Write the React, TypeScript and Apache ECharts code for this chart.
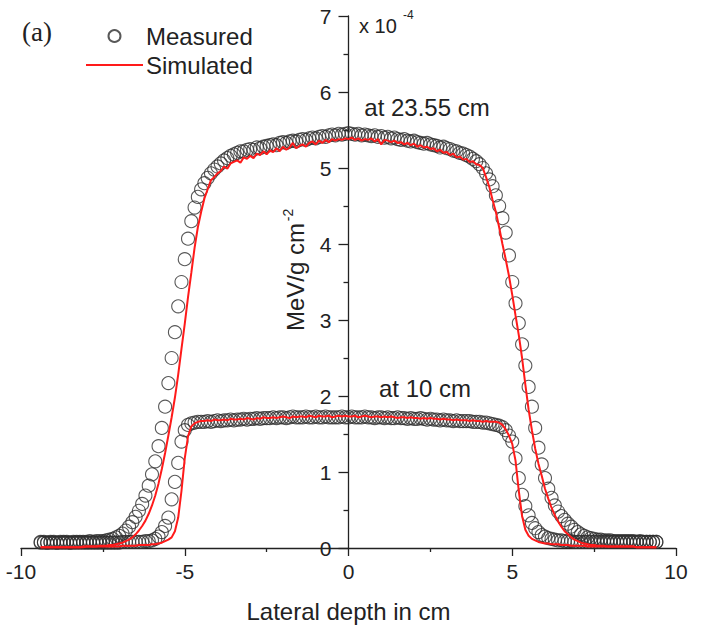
import React, { useEffect, useRef } from "react";
import * as echarts from "echarts";

// Lateral position (cm), shared sampling of all four profiles
const X = [
  -9.4, -9.3, -9.2, -9.1, -9.0, -8.9, -8.8, -8.7, -8.6, -8.5,
  -8.4, -8.3, -8.2, -8.1, -8.0, -7.9, -7.8, -7.7, -7.6, -7.5,
  -7.4, -7.3, -7.2, -7.1, -7.0, -6.9, -6.8, -6.7, -6.6, -6.5,
  -6.4, -6.3, -6.2, -6.1, -6.0, -5.9, -5.8, -5.7, -5.6, -5.5,
  -5.4, -5.3, -5.2, -5.1, -5.0, -4.9, -4.8, -4.7, -4.6, -4.5,
  -4.4, -4.3, -4.2, -4.1, -4.0, -3.9, -3.8, -3.7, -3.6, -3.5,
  -3.4, -3.3, -3.2, -3.1, -3.0, -2.9, -2.8, -2.7, -2.6, -2.5,
  -2.4, -2.3, -2.2, -2.1, -2.0, -1.9, -1.8, -1.7, -1.6, -1.5,
  -1.4, -1.3, -1.2, -1.1, -1.0, -0.9, -0.8, -0.7, -0.6, -0.5,
  -0.4, -0.3, -0.2, -0.1, 0.0, 0.1, 0.2, 0.3, 0.4, 0.5,
  0.6, 0.7, 0.8, 0.9, 1.0, 1.1, 1.2, 1.3, 1.4, 1.5,
  1.6, 1.7, 1.8, 1.9, 2.0, 2.1, 2.2, 2.3, 2.4, 2.5,
  2.6, 2.7, 2.8, 2.9, 3.0, 3.1, 3.2, 3.3, 3.4, 3.5,
  3.6, 3.7, 3.8, 3.9, 4.0, 4.1, 4.2, 4.3, 4.4, 4.5,
  4.6, 4.7, 4.8, 4.9, 5.0, 5.1, 5.2, 5.3, 5.4, 5.5,
  5.6, 5.7, 5.8, 5.9, 6.0, 6.1, 6.2, 6.3, 6.4, 6.5,
  6.6, 6.7, 6.8, 6.9, 7.0, 7.1, 7.2, 7.3, 7.4, 7.5,
  7.6, 7.7, 7.8, 7.9, 8.0, 8.1, 8.2, 8.3, 8.4, 8.5,
  8.6, 8.7, 8.8, 8.9, 9.0, 9.1, 9.2, 9.3, 9.4,
];

// Measured dose at 23.55 cm (x 10^-4 MeV/g cm^-2)
const MEASURED_23 = [
  0.08, 0.08, 0.07, 0.08, 0.08, 0.07, 0.08, 0.08, 0.08, 0.07,
  0.08, 0.08, 0.08, 0.08, 0.08, 0.09, 0.08, 0.09, 0.09, 0.09,
  0.10, 0.11, 0.12, 0.14, 0.16, 0.19, 0.23, 0.28, 0.34, 0.41,
  0.49, 0.58, 0.69, 0.82, 0.97, 1.14, 1.34, 1.58, 1.86, 2.17,
  2.50, 2.84, 3.18, 3.50, 3.80, 4.07, 4.30, 4.48, 4.62, 4.72,
  4.80, 4.87, 4.93, 4.98, 5.02, 5.06, 5.10, 5.13, 5.16, 5.18,
  5.20, 5.22, 5.22, 5.24, 5.25, 5.24, 5.27, 5.26, 5.28, 5.29,
  5.30, 5.31, 5.30, 5.33, 5.34, 5.33, 5.35, 5.36, 5.35, 5.37,
  5.38, 5.37, 5.39, 5.40, 5.39, 5.41, 5.42, 5.41, 5.43, 5.44,
  5.43, 5.45, 5.44, 5.45, 5.46, 5.45, 5.44, 5.45, 5.43, 5.44,
  5.43, 5.42, 5.43, 5.41, 5.42, 5.40, 5.41, 5.39, 5.40, 5.38,
  5.37, 5.38, 5.36, 5.35, 5.36, 5.34, 5.33, 5.32, 5.33, 5.31,
  5.30, 5.29, 5.27, 5.28, 5.26, 5.25, 5.23, 5.22, 5.20, 5.19,
  5.17, 5.15, 5.12, 5.09, 5.05, 5.00, 4.93, 4.85, 4.76, 4.64,
  4.50, 4.34, 4.15, 3.85, 3.50, 3.22, 2.96, 2.68, 2.40, 2.12,
  1.86, 1.58, 1.32, 1.10, 0.92, 0.78, 0.66, 0.56, 0.48, 0.42,
  0.37, 0.32, 0.28, 0.24, 0.21, 0.18, 0.16, 0.14, 0.13, 0.12,
  0.11, 0.11, 0.10, 0.10, 0.10, 0.09, 0.09, 0.09, 0.09, 0.09,
  0.09, 0.09, 0.08, 0.09, 0.08, 0.08, 0.08, 0.08, 0.08,
];

// Measured dose at 10 cm
const MEASURED_10 = [
  0.07, 0.07, 0.07, 0.07, 0.07, 0.07, 0.07, 0.07, 0.07, 0.07,
  0.07, 0.07, 0.07, 0.07, 0.07, 0.07, 0.07, 0.07, 0.07, 0.07,
  0.07, 0.07, 0.07, 0.07, 0.07, 0.08, 0.08, 0.08, 0.08, 0.08,
  0.08, 0.08, 0.09, 0.09, 0.10, 0.12, 0.15, 0.21, 0.29, 0.40,
  0.64, 0.87, 1.12, 1.40, 1.55, 1.62, 1.64, 1.65, 1.66, 1.66,
  1.66, 1.67, 1.66, 1.67, 1.68, 1.67, 1.68, 1.68, 1.69, 1.68,
  1.69, 1.69, 1.70, 1.69, 1.70, 1.70, 1.71, 1.70, 1.71, 1.71,
  1.71, 1.72, 1.71, 1.72, 1.72, 1.71, 1.72, 1.73, 1.72, 1.72,
  1.72, 1.73, 1.72, 1.72, 1.73, 1.72, 1.72, 1.73, 1.72, 1.72,
  1.72, 1.72, 1.73, 1.72, 1.72, 1.73, 1.72, 1.72, 1.72, 1.73,
  1.72, 1.72, 1.71, 1.72, 1.72, 1.71, 1.72, 1.71, 1.71, 1.72,
  1.71, 1.71, 1.70, 1.71, 1.70, 1.70, 1.71, 1.70, 1.69, 1.70,
  1.69, 1.69, 1.68, 1.69, 1.68, 1.68, 1.67, 1.68, 1.67, 1.67,
  1.67, 1.67, 1.66, 1.66, 1.66, 1.65, 1.65, 1.64, 1.63, 1.62,
  1.61, 1.59, 1.55, 1.48, 1.40, 1.18, 0.92, 0.70, 0.55, 0.43,
  0.33, 0.26, 0.21, 0.17, 0.15, 0.13, 0.12, 0.11, 0.10, 0.10,
  0.09, 0.09, 0.09, 0.08, 0.08, 0.08, 0.08, 0.08, 0.08, 0.08,
  0.08, 0.08, 0.08, 0.08, 0.08, 0.08, 0.08, 0.08, 0.08, 0.08,
  0.08, 0.08, 0.08, 0.08, 0.08, 0.08, 0.08, 0.08, 0.08,
];

// Simulated dose at 23.55 cm
const SIMULATED_23 = [
  0.01, 0.01, 0.01, 0.01, 0.01, 0.01, 0.01, 0.01, 0.01, 0.01,
  0.01, 0.01, 0.01, 0.02, 0.02, 0.02, 0.02, 0.02, 0.03, 0.03,
  0.03, 0.04, 0.04, 0.05, 0.06, 0.07, 0.09, 0.11, 0.14, 0.18,
  0.23, 0.29, 0.36, 0.45, 0.56, 0.69, 0.85, 1.04, 1.25, 1.48,
  1.72, 1.98, 2.28, 2.62, 2.95, 3.30, 3.62, 3.95, 4.22, 4.42,
  4.60, 4.72, 4.84, 4.88, 4.93, 4.96, 5.02, 4.99, 5.06, 5.08,
  5.10, 5.07, 5.14, 5.12, 5.16, 5.13, 5.19, 5.17, 5.22, 5.18,
  5.23, 5.21, 5.26, 5.22, 5.28, 5.24, 5.27, 5.33, 5.26, 5.29,
  5.31, 5.28, 5.33, 5.35, 5.31, 5.36, 5.33, 5.37, 5.34, 5.38,
  5.36, 5.38, 5.37, 5.39, 5.38, 5.40, 5.37, 5.39, 5.36, 5.38,
  5.37, 5.39, 5.35, 5.38, 5.31, 5.37, 5.36, 5.34, 5.36, 5.33,
  5.34, 5.31, 5.33, 5.30, 5.32, 5.28, 5.30, 5.27, 5.28, 5.25,
  5.26, 5.22, 5.24, 5.20, 5.21, 5.17, 5.19, 5.14, 5.15, 5.11,
  5.12, 5.08, 5.09, 5.05, 5.04, 5.00, 4.88, 4.75, 4.58, 4.42,
  4.22, 4.00, 3.80, 3.58, 3.33, 3.06, 2.80, 2.50, 2.15, 1.82,
  1.55, 1.31, 1.11, 0.95, 0.78, 0.65, 0.53, 0.43, 0.35, 0.28,
  0.22, 0.18, 0.14, 0.11, 0.09, 0.07, 0.06, 0.05, 0.04, 0.04,
  0.03, 0.03, 0.03, 0.02, 0.02, 0.02, 0.02, 0.02, 0.02, 0.02,
  0.02, 0.02, 0.01, 0.01, 0.01, 0.01, 0.01, 0.01, 0.01,
];

// Simulated dose at 10 cm
const SIMULATED_10 = [
  0.01, 0.01, 0.01, 0.01, 0.01, 0.01, 0.01, 0.01, 0.01, 0.01,
  0.01, 0.01, 0.01, 0.01, 0.02, 0.02, 0.02, 0.02, 0.02, 0.02,
  0.02, 0.02, 0.02, 0.02, 0.02, 0.03, 0.03, 0.03, 0.03, 0.03,
  0.04, 0.04, 0.04, 0.04, 0.05, 0.05, 0.06, 0.07, 0.09, 0.11,
  0.14, 0.22, 0.40, 0.75, 1.18, 1.47, 1.60, 1.64, 1.66, 1.67,
  1.67, 1.68, 1.67, 1.69, 1.68, 1.68, 1.69, 1.68, 1.70, 1.69,
  1.69, 1.70, 1.69, 1.71, 1.70, 1.69, 1.71, 1.70, 1.72, 1.71,
  1.71, 1.72, 1.71, 1.72, 1.73, 1.72, 1.71, 1.73, 1.72, 1.73,
  1.73, 1.72, 1.74, 1.73, 1.72, 1.74, 1.73, 1.73, 1.74, 1.72,
  1.73, 1.74, 1.73, 1.74, 1.73, 1.73, 1.74, 1.72, 1.73, 1.74,
  1.73, 1.72, 1.73, 1.73, 1.72, 1.73, 1.72, 1.73, 1.72, 1.71,
  1.72, 1.72, 1.71, 1.72, 1.71, 1.71, 1.70, 1.71, 1.70, 1.71,
  1.70, 1.70, 1.69, 1.70, 1.69, 1.69, 1.68, 1.69, 1.68, 1.68,
  1.68, 1.67, 1.68, 1.67, 1.67, 1.66, 1.67, 1.66, 1.66, 1.66,
  1.65, 1.62, 1.56, 1.48, 1.37, 1.15, 0.75, 0.42, 0.24, 0.16,
  0.12, 0.10, 0.08, 0.07, 0.06, 0.06, 0.05, 0.05, 0.05, 0.04,
  0.04, 0.04, 0.03, 0.03, 0.03, 0.03, 0.03, 0.02, 0.02, 0.02,
  0.02, 0.02, 0.02, 0.02, 0.02, 0.02, 0.02, 0.02, 0.02, 0.02,
  0.02, 0.02, 0.01, 0.01, 0.01, 0.01, 0.01, 0.01, 0.01,
];

const X_TICKS = [-10, -5, 0, 5, 10];
const Y_TICKS = [0, 1, 2, 3, 4, 5, 6, 7];

const FONT = "'Liberation Sans', Arial, Helvetica, sans-serif";
const INK = "#222222";

const GRID_LEFT = 21;
const GRID_RIGHT = 30;
const WIDTH = 706;

function pairs(ys: number[]) {
  return X.map((x, i) => [x, ys[i]]);
}

export default function App() {
  const ref = useRef<HTMLDivElement>(null);

  useEffect(() => {
    if (!ref.current) return;
    const chart = echarts.init(ref.current, undefined, { renderer: "svg" });

    const plotW = WIDTH - GRID_LEFT - GRID_RIGHT;
    const xMin = X_TICKS[0];
    const xMax = X_TICKS[X_TICKS.length - 1];
    // place the y axis where x = 0 on the x axis
    const yAxisOffset = -((0 - xMin) / (xMax - xMin)) * plotW;

    const axisLine = { lineStyle: { color: INK, width: 1.3 } };
    const measuredStyle = {
      color: "rgba(0,0,0,0)",
      borderColor: "#2e2e2e",
      borderWidth: 1.1,
    };

    chart.setOption({
      animation: false,
      textStyle: { fontFamily: FONT, color: INK },
      grid: { left: GRID_LEFT, right: GRID_RIGHT, top: 16, bottom: 82, containLabel: false },
      legend: {
        orient: "vertical",
        left: 80,
        top: 19,
        itemWidth: 57,
        itemHeight: 12,
        itemGap: 5,
        textStyle: { fontSize: 24, color: INK, fontFamily: FONT, padding: [0, 0, 0, -2] },
        data: [
          { name: "Measured" },
          { name: "Simulated", itemStyle: { opacity: 0, color: "rgba(0,0,0,0)", borderWidth: 0 } },
        ],
      },
      xAxis: {
        type: "value",
        min: xMin,
        max: xMax,
        interval: X_TICKS[1] - X_TICKS[0],
        name: "Lateral depth in cm",
        nameLocation: "middle",
        nameGap: 51,
        nameTextStyle: { fontSize: 24, color: INK, fontFamily: FONT },
        axisLine: { ...axisLine, onZero: false },
        axisTick: { show: true, inside: false, length: 8, lineStyle: { color: INK, width: 1.3 } },
        minorTick: { show: true, splitNumber: 2, length: 4, lineStyle: { color: INK, width: 1.3 } },
        splitLine: { show: false },
        minorSplitLine: { show: false },
        axisLabel: { fontSize: 21, color: INK, margin: 13, fontFamily: FONT },
      },
      yAxis: {
        type: "value",
        position: "left",
        offset: yAxisOffset,
        min: Y_TICKS[0],
        max: Y_TICKS[Y_TICKS.length - 1],
        interval: Y_TICKS[1] - Y_TICKS[0],
        axisLine: { ...axisLine, onZero: false },
        axisTick: { show: true, inside: false, length: 10, lineStyle: { color: INK, width: 1.3 } },
        minorTick: { show: true, splitNumber: 2, length: 5, lineStyle: { color: INK, width: 1.3 } },
        splitLine: { show: false },
        minorSplitLine: { show: false },
        axisLabel: { fontSize: 21, color: INK, margin: 17, fontFamily: FONT },
      },
      series: [
        {
          name: "Measured",
          type: "scatter",
          data: pairs(MEASURED_23),
          symbol: "circle",
          symbolSize: 13,
          itemStyle: measuredStyle,
          z: 2,
        },
        {
          name: "Measured",
          type: "scatter",
          data: pairs(MEASURED_10),
          symbol: "circle",
          symbolSize: 13,
          itemStyle: measuredStyle,
          z: 2,
        },
        {
          name: "Simulated",
          type: "line",
          data: pairs(SIMULATED_23),
          symbol: "none",
          showSymbol: false,
          lineStyle: { color: "#ff1a1a", width: 2 },
          itemStyle: { color: "#ff1a1a" },
          z: 3,
        },
        {
          name: "Simulated",
          type: "line",
          data: pairs(SIMULATED_10),
          symbol: "none",
          showSymbol: false,
          lineStyle: { color: "#ff1a1a", width: 2 },
          itemStyle: { color: "#ff1a1a" },
          z: 3,
        },
      ],
      graphic: [
        {
          type: "text",
          x: 22,
          y: 32,
          style: {
            text: "(a)",
            font: "27px 'Liberation Serif', 'Times New Roman', serif",
            fill: INK,
            align: "left",
            verticalAlign: "middle",
          },
        },
        {
          type: "text",
          x: 359,
          y: 26,
          style: { text: "x 10", font: `20px ${FONT}`, fill: INK, align: "left", verticalAlign: "middle" },
        },
        {
          type: "text",
          x: 403,
          y: 15,
          style: { text: "-4", font: `12px ${FONT}`, fill: INK, align: "left", verticalAlign: "middle" },
        },
        {
          type: "text",
          x: 295,
          y: 277,
          rotation: Math.PI / 2,
          style: { text: "MeV/g cm", font: `24px ${FONT}`, fill: INK, align: "center", verticalAlign: "middle" },
        },
        {
          type: "text",
          x: 288,
          y: 215,
          rotation: Math.PI / 2,
          style: { text: "-2", font: `14px ${FONT}`, fill: INK, align: "center", verticalAlign: "middle" },
        },
        {
          type: "text",
          x: 427,
          y: 107,
          style: { text: "at 23.55 cm", font: `24px ${FONT}`, fill: INK, align: "center", verticalAlign: "middle" },
        },
        {
          type: "text",
          x: 425,
          y: 388,
          style: { text: "at 10 cm", font: `24px ${FONT}`, fill: INK, align: "center", verticalAlign: "middle" },
        },
      ],
    });

    return () => chart.dispose();
  }, []);

  return (
    <div
      ref={ref}
      style={{ position: "fixed", left: 0, top: 0, width: 706, height: 630, background: "#fff" }}
    />
  );
}
